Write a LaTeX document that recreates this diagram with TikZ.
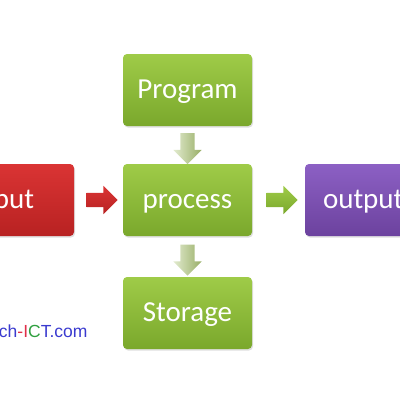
\documentclass[tikz,border=0pt]{standalone}
\usepackage{fontspec}
\setmainfont{Carlito}
\newfontfamily\markfont{Liberation Sans}
\usetikzlibrary{shapes.arrows,shadows,calc}

\definecolor{greentop}{HTML}{9FCB48}
\definecolor{greenbot}{HTML}{7AA82C}
\definecolor{redtop}{HTML}{DA3434}
\definecolor{redbot}{HTML}{B82222}
\definecolor{purptop}{HTML}{8C60C4}
\definecolor{purpbot}{HTML}{6C429E}
\definecolor{paletop}{HTML}{E2EBCF}
\definecolor{palebot}{HTML}{98AE66}
\definecolor{markblue}{HTML}{3A3ACF}
\definecolor{markred}{HTML}{E0304A}
\definecolor{markgreen}{HTML}{30A040}

\begin{document}
\begin{tikzpicture}[x=1pt, y=-1pt,
  box/.style={shape=rectangle, rounded corners=4pt, minimum width=129pt, minimum height=72pt,
    text=white, font=\fontsize{29}{34}\selectfont, text height=23pt, text depth=6pt,
    drop shadow={opacity=0.25, shadow xshift=1pt, shadow yshift=-1.5pt}},
  greenbox/.style={box, top color=greentop, bottom color=greenbot},
  blockarrow/.style={shape=single arrow, minimum height=31pt, inner sep=7pt,
    single arrow head extend=7pt, single arrow tip angle=90},
  rightarrow/.style={blockarrow, top color=#1top, bottom color=#1bot},
  downarrow/.style={blockarrow, shape border rotate=270, left color=paletop, right color=palebot}]
\useasboundingbox (0,0) rectangle (400,400);
\clip (0,0) rectangle (400,400);

\node [greenbox] (process) at (187.5,200) {process};
\node [greenbox, above of=process, node distance=110pt] (program) {Program};
\node [greenbox, below of=process, node distance=113pt] (storage) {Storage};
\node [box, left of=process, node distance=178pt, top color=redtop, bottom color=redbot,
  inner xsep=40pt, text width=49pt, align=right] (input) {\llap{Input}};
\node [box, right of=process, node distance=182pt, top color=purptop, bottom color=purpbot,
  inner xsep=18pt, text width=93pt, align=left] (output) {output};

% connectors between the boxes
\node [rightarrow=red] (in2proc) at ($(input.east)!0.5!(process.west)$) {};
\node [rightarrow=green] (proc2out) at ($(process.east)!0.5!(output.west)$) {};
\node [downarrow] (prog2proc) at ($(program.south)!0.5!(process.north)$) {};
\node [downarrow] (proc2stor) at ($(process.south)!0.5!(storage.north)$) {};

\node [anchor=base east, font=\markfont\fontsize{17.5}{20}\selectfont] (mark) at (91,337)
  {\textcolor{markblue}{teach}\textcolor{markred}{-I}\textcolor{markgreen}{C}\textcolor{markblue}{T.com}};
\end{tikzpicture}
\end{document}
